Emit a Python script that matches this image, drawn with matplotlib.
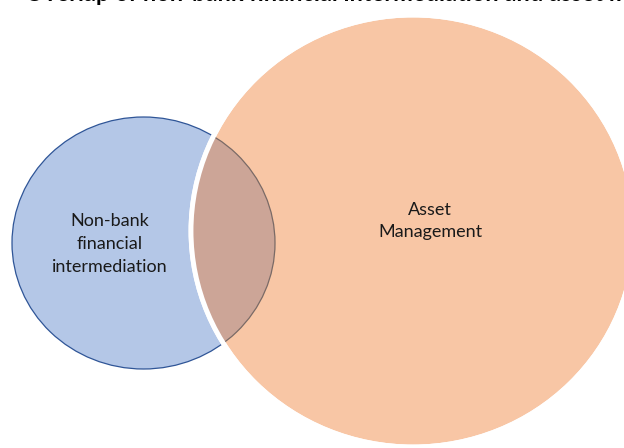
"""Venn-style overlap of non-bank financial intermediation and asset management."""

import matplotlib.pyplot as plt
from matplotlib.patches import Ellipse

# labels
title = "Overlap of non-bank financial intermediation and asset management"
left_label = "Non-bank\nfinancial\nintermediation"
right_label = "Asset\nManagement"

# shape geometry (pixel space of the 624x448 canvas)
left_center = (143.5, 243)
left_size = (263, 252)
right_center = (413, 231)
right_size = (444, 432)

blue = "#B4C7E7"
orange = "#F8C6A5"
brown = "#CCA597"

fig = plt.figure(figsize=(6.24, 4.48), dpi=100)
ax = fig.add_axes([0, 0, 1, 1])
ax.set_xlim(0, 624)
ax.set_ylim(448, 0)
ax.axis("off")

left = Ellipse(left_center, *left_size, facecolor=blue, edgecolor="#2F5597", lw=0.9, zorder=1)
ax.add_patch(left)

right = Ellipse(right_center, *right_size, facecolor=orange, edgecolor="white", lw=3.5, zorder=2)
ax.add_patch(right)

# overlap: the left ellipse clipped to the right one
clip = Ellipse(right_center, *right_size, transform=ax.transData)
overlap = Ellipse(left_center, *left_size, facecolor=brown, edgecolor="#7A6A66", lw=0.9, zorder=3)
ax.add_patch(overlap)
overlap.set_clip_path(clip)

# white rim of the right ellipse on top of the overlap
rim = Ellipse(right_center, *right_size, facecolor="none", edgecolor="white", lw=3.5, zorder=4)
ax.add_patch(rim)

ax.text(110, 244, left_label, ha="center", va="center", fontsize=13,
        family="Lato", color="#1a1a1a", linespacing=1.5, zorder=5)
ax.text(430, 221, right_label, ha="center", va="center", fontsize=13,
        family="Lato", color="#1a1a1a", linespacing=1.5, zorder=5)

# title sits mostly above the canvas, only its lower edge shows
fig.text(25 / 624, 1 - 1.0 / 448, title, ha="left", va="baseline", fontsize=17,
         fontweight="bold", family="Lato", color="black")

fig.savefig("out.png", dpi=100)
